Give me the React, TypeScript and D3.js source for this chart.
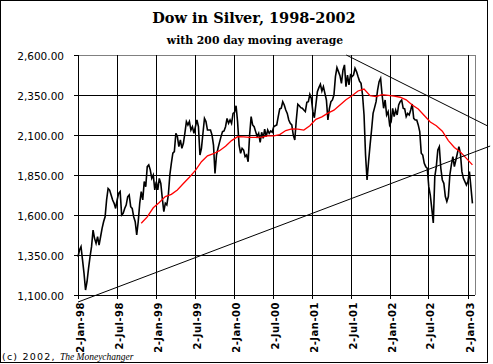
import { useEffect, useRef } from "react";
import * as d3 from "d3";

// Dow priced in silver, readings spread evenly from first to last trading day
const firstDate = "1998-01-02";
const lastDate = "2003-01-24";

const dowSilver = [
  1339, 1381, 1402, 1319, 1235, 1131, 1183, 1266, 1339, 1402,
  1506, 1454, 1423, 1464, 1412, 1464, 1516, 1558, 1589, 1694,
  1766, 1756, 1725, 1694, 1673, 1641, 1694, 1735, 1746, 1600,
  1610, 1641, 1662, 1714, 1725, 1652, 1641, 1589, 1558, 1475,
  1558, 1673, 1746, 1694, 1809, 1777, 1902, 1913, 1882, 1829,
  1850, 1757, 1809, 1757, 1829, 1798, 1704, 1621, 1673, 1663,
  1725, 1850, 1923, 1986, 1996, 2111, 2090, 2027, 2069, 2017,
  2048, 2111, 2184, 2163, 2184, 2131, 2152, 2111, 2152, 2194,
  2152, 1975, 2017, 2111, 2204, 2184, 2131, 2131, 2131, 2100,
  2037, 1860, 1975, 2017, 2054, 2090, 2121, 2125, 2152, 2204,
  2173, 2194, 2173, 2235, 2242, 2283, 2183, 2037, 1986, 2017,
  2006, 1965, 1975, 1933, 2100, 2215, 2163, 2152, 2121, 2090,
  2110, 2054, 2117, 2079, 2137, 2090, 2131, 2110, 2125, 2117,
  2152, 2158, 2163, 2215, 2263, 2267, 2308, 2288, 2256, 2235,
  2194, 2173, 2163, 2100, 2069, 2194, 2292, 2283, 2271, 2267,
  2256, 2246, 2304, 2308, 2354, 2329, 2246, 2208, 2288, 2371,
  2396, 2417, 2375, 2402, 2360, 2319, 2194, 2267, 2308, 2319,
  2350, 2465, 2521, 2496, 2471, 2423, 2506, 2538, 2402, 2475,
  2413, 2475, 2465, 2475, 2517, 2496, 2465, 2437, 2423, 2350,
  2225, 1975, 1819, 1933, 2037, 2131, 2235, 2271, 2308, 2381,
  2433, 2454, 2350, 2267, 2319, 2225, 2246, 2163, 2183, 2267,
  2215, 2256, 2225, 2288, 2308, 2319, 2267, 2263, 2215, 2235,
  2225, 2256, 2294, 2204, 2194, 2194, 2163, 2121, 1986, 1975,
  1923, 1902, 1892, 1777, 1725, 1640, 1550, 1840, 1902, 2007,
  2027, 1892, 1819, 1798, 1715, 1684, 1715, 1850, 1913, 1965,
  1902, 1944, 1986, 2027, 1986, 1871, 1829, 1809, 1788, 1809,
  1871, 1773, 1673,
];

// 200 day moving average, read at every 4th reading from reading 42 on
const maStart = 42;
const maEvery = 4;
const movingAvg = [
  1548, 1588, 1645, 1678, 1715, 1729, 1756, 1797, 1836, 1879,
  1933, 1970, 1983, 2002, 2030, 2065, 2090, 2088, 2085, 2085,
  2087, 2094, 2094, 2103, 2128, 2138, 2137, 2131, 2158, 2198,
  2213, 2237, 2255, 2288, 2320, 2345, 2375, 2387, 2346, 2340,
  2352, 2348, 2343, 2336, 2320, 2288, 2262, 2222, 2181, 2158,
  2124, 2065, 2022, 1994, 1954, 1913,
];

// hand drawn trend lines: [date, value] at each end
const supportLine = [["1998-01-02", 1056], ["2003-04-17", 2031]];
const resistanceLine = [["2001-06-12", 2600], ["2003-04-03", 2158]];

const xTickLabels = [
  "2-Jan-98", "2-Jul-98", "2-Jan-99", "2-Jul-99", "2-Jan-00", "2-Jul-00",
  "2-Jan-01", "2-Jul-01", "2-Jan-02", "2-Jul-02", "2-Jan-03",
];
const yTicks = [1100, 1350, 1600, 1850, 2100, 2350, 2600];

export default function App() {
  const ref = useRef<SVGSVGElement>(null);

  useEffect(() => {
    if (!ref.current) return;
    const svg = d3.select(ref.current);
    svg.selectAll("*").remove();

    const W = 493, H = 364;
    const plot = { left: 78, right: 475, top: 55, bottom: 295 };
    const parseDay = d3.timeParse("%Y-%m-%d");
    const parseTick = d3.timeParse("%d-%b-%y");

    const x = d3.scaleTime()
      .domain([parseDay("1998-01-02")!, parseDay("2003-02-05")!])
      .range([plot.left, plot.right]);
    const y = d3.scaleLinear().domain([1100, 2600]).range([plot.bottom, plot.top]);

    const t0 = parseDay(firstDate)!.getTime();
    const t1 = parseDay(lastDate)!.getTime();
    const n = dowSilver.length;
    const dateAt = (i: number) => new Date(t0 + ((t1 - t0) * i) / (n - 1));
    const px = (v: number) => Math.round(v) + 0.5;

    svg.append("rect").attr("width", W).attr("height", H).attr("fill", "#fff");
    svg.append("rect")
      .attr("x", 0.5).attr("y", 0.5).attr("width", 487).attr("height", 362)
      .attr("fill", "none").attr("stroke", "#000");

    // titles
    svg.append("text")
      .attr("x", 254).attr("y", 23).attr("text-anchor", "middle")
      .attr("font-family", "DejaVu Serif")
      .attr("font-weight", "bold").attr("font-size", 14.5)
      .text("Dow in Silver, 1998-2002");
    svg.append("text")
      .attr("x", 255).attr("y", 43.5).attr("text-anchor", "middle")
      .attr("font-family", "DejaVu Serif")
      .attr("font-weight", "bold").attr("font-size", 10.8)
      .text("with 200 day moving average");

    const grid = svg.append("g").attr("shape-rendering", "crispEdges");

    // horizontal gridlines + ticks
    yTicks.forEach((v) => {
      grid.append("line")
        .attr("x1", plot.left - 4).attr("x2", v === 2600 ? plot.left : plot.right)
        .attr("y1", px(y(v))).attr("y2", px(y(v)))
        .attr("stroke", "#000");
    });
    grid.append("line")
      .attr("x1", plot.left).attr("x2", plot.right + 1)
      .attr("y1", px(plot.top)).attr("y2", px(plot.top))
      .attr("stroke", "#808080");
    grid.append("line")
      .attr("x1", px(plot.right)).attr("x2", px(plot.right))
      .attr("y1", plot.top).attr("y2", plot.bottom)
      .attr("stroke", "#808080");

    // vertical gridlines + ticks
    const tickDates = xTickLabels.map((s) => parseTick(s)!);
    tickDates.forEach((d) => {
      grid.append("line")
        .attr("x1", px(x(d))).attr("x2", px(x(d)))
        .attr("y1", plot.top).attr("y2", plot.bottom + 4)
        .attr("stroke", "#000");
    });

    // y labels
    const fmt = d3.format(",.2f");
    svg.append("g").selectAll("text")
      .data(yTicks).enter().append("text")
      .attr("x", 64).attr("y", (d) => y(d) + 5)
      .attr("text-anchor", "end")
      .attr("font-family", "'DejaVu Sans', sans-serif").attr("font-size", 10.5)
      .text((d) => fmt(d));

    // x labels, rotated
    svg.append("g").selectAll("text")
      .data(tickDates).enter().append("text")
      .attr("transform", (d) => `translate(${px(x(d)) + 5},302) rotate(-90)`)
      .attr("text-anchor", "end")
      .attr("font-family", "'DejaVu Sans', sans-serif").attr("font-weight", "bold")
      .attr("font-size", 10).attr("letter-spacing", 0.5)
      .text((_, i) => xTickLabels[i]);

    // price series
    const priceLine = d3.line<number>()
      .x((_, i) => x(dateAt(i)))
      .y((d) => y(d));
    svg.append("path")
      .attr("d", priceLine(dowSilver)!)
      .attr("fill", "none").attr("stroke", "#000").attr("stroke-width", 1.6);

    const maLine = d3.line<number>()
      .x((_, k) => x(dateAt(maStart + k * maEvery)))
      .y((d) => y(d));
    svg.append("path")
      .attr("d", maLine(movingAvg)!)
      .attr("fill", "none").attr("stroke", "#ff0000").attr("stroke-width", 1.3);

    // trend lines
    const trend = d3.line<(string | number)[]>()
      .x((d) => x(parseDay(d[0] as string)!))
      .y((d) => y(d[1] as number));
    [supportLine, resistanceLine].forEach((l) => {
      svg.append("path")
        .attr("d", trend(l)!)
        .attr("fill", "none").attr("stroke", "#000").attr("stroke-width", 1);
    });

    // credit
    const credit = svg.append("text")
      .attr("x", 2).attr("y", 360)
      .attr("font-size", 9.5);
    credit.append("tspan")
      .attr("font-family", "'DejaVu Sans', sans-serif").attr("letter-spacing", 1.2)
      .text("(c) 2002, ");
    credit.append("tspan")
      .attr("font-family", "'Liberation Serif', serif").attr("font-style", "italic")
      .attr("font-size", 9.5)
      .text("The Moneychanger");
  }, []);

  return (
    <svg
      ref={ref}
      width={493}
      height={364}
      style={{ position: "absolute", left: 0, top: 0 }}
    />
  );
}
